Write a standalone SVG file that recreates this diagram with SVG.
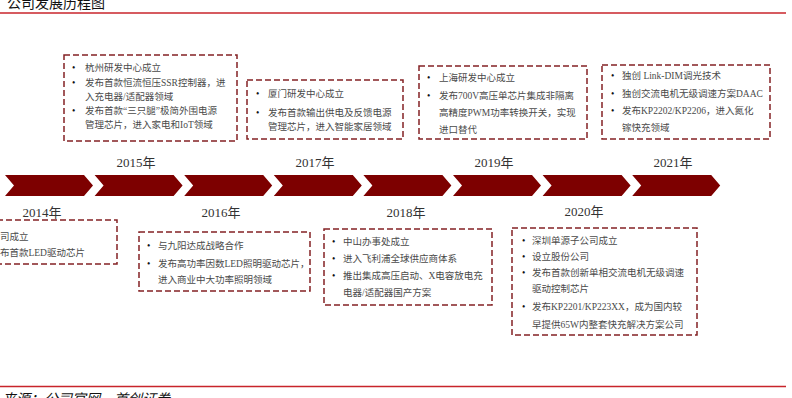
<svg xmlns="http://www.w3.org/2000/svg" width="792" height="398" viewBox="0 0 792 398">
<style>
.title{font-family:"Noto Sans CJK SC","Noto Sans",sans-serif;font-size:14px;fill:#111}
.src{font-family:"Noto Sans CJK SC",sans-serif;font-size:14px;fill:#111;font-style:italic}
.yr{font-family:"Liberation Serif","Noto Sans CJK SC",serif;font-size:13px;fill:#333;text-anchor:middle}
.t{font-family:"Liberation Serif","Noto Sans CJK SC",serif;font-size:9.5px;fill:#4a4a4a}
.b{font-family:"Liberation Serif",serif;font-size:9.5px;fill:#111}
.box{fill:none;stroke:#842224;stroke-width:1.5;stroke-dasharray:6 3}
.chev{fill:#7d0000}
.rule{stroke:#c8242b;stroke-width:1.6}
</style>
<rect width="792" height="398" fill="#fff"/>
<text class="title" x="7" y="8">公司发展历程图</text>
<line class="rule" x1="0" y1="13" x2="786" y2="13"/>
<line class="rule" x1="0" y1="386.5" x2="786" y2="386.5"/>
<text class="src" x="2" y="404">来源：公司官网，首创证券</text>

<g id="timeline">
<path class="chev" d="M5,175 H84 L93,185.5 L84,196 H5 L14,185.5 Z"/>
<path class="chev" d="M94.6,175 H173.6 L182.6,185.5 L173.6,196 H94.6 L103.6,185.5 Z"/>
<path class="chev" d="M184.2,175 H263.2 L272.2,185.5 L263.2,196 H184.2 L193.2,185.5 Z"/>
<path class="chev" d="M273.8,175 H352.8 L361.8,185.5 L352.8,196 H273.8 L282.8,185.5 Z"/>
<path class="chev" d="M363.4,175 H442.4 L451.4,185.5 L442.4,196 H363.4 L372.4,185.5 Z"/>
<path class="chev" d="M453,175 H532 L541,185.5 L532,196 H453 L462,185.5 Z"/>
<path class="chev" d="M542.6,175 H621.6 L630.6,185.5 L621.6,196 H542.6 L551.6,185.5 Z"/>
<path class="chev" d="M632.2,175 H711.2 L720.2,185.5 L711.2,196 H632.2 L641.2,185.5 Z"/>
</g>

<g id="y2014">
<text class="yr" x="42" y="217">2014年</text>
<rect class="box" x="-30" y="220" width="147" height="44"/>
<text class="b" x="-21" y="239.5">•</text><text class="t" x="-9.5" y="239.5">公司成立</text>
<text class="b" x="-21" y="255.5">•</text><text class="t" x="-9.5" y="255.5">发布首款LED驱动芯片</text>
</g>

<g id="y2015">
<text class="yr" x="136" y="167">2015年</text>
<rect class="box" x="64" y="55" width="173" height="86"/>
<text class="b" x="72" y="70.5">•</text><text class="t" x="85" y="70.5">杭州研发中心成立</text>
<text class="b" x="72" y="85.5">•</text><text class="t" x="85" y="85.5">发布首款恒流恒压SSR控制器，进</text>
<text class="t" x="85" y="99.5">入充电器/适配器领域</text>
<text class="b" x="72" y="113.5">•</text><text class="t" x="85" y="113.5">发布首款“三只腿”极简外围电源</text>
<text class="t" x="85" y="127.5">管理芯片，进入家电和IoT领域</text>
</g>

<g id="y2016">
<text class="yr" x="221" y="217">2016年</text>
<rect class="box" x="139" y="232" width="171" height="59"/>
<text class="b" x="147" y="248.5">•</text><text class="t" x="158" y="248.5">与九阳达成战略合作</text>
<text class="b" x="147" y="266.5">•</text><text class="t" x="158" y="266.5">发布高功率因数LED照明驱动芯片，</text>
<text class="t" x="158" y="282.5">进入商业中大功率照明领域</text>
</g>

<g id="y2017">
<text class="yr" x="315" y="167">2017年</text>
<rect class="box" x="247" y="80" width="156" height="59"/>
<text class="b" x="256" y="96.5">•</text><text class="t" x="268" y="96.5">厦门研发中心成立</text>
<text class="b" x="256" y="116">•</text><text class="t" x="268" y="116">发布首款输出供电及反馈电源</text>
<text class="t" x="268" y="130">管理芯片，进入智能家居领域</text>
</g>

<g id="y2018">
<text class="yr" x="406" y="217">2018年</text>
<rect class="box" x="324" y="229" width="168" height="76"/>
<text class="b" x="332" y="244.5">•</text><text class="t" x="343" y="244.5">中山办事处成立</text>
<text class="b" x="332" y="261.5">•</text><text class="t" x="343" y="261.5">进入飞利浦全球供应商体系</text>
<text class="b" x="332" y="278.5">•</text><text class="t" x="343" y="278.5">推出集成高压启动、X电容放电充</text>
<text class="t" x="343" y="295.5">电器/适配器国产方案</text>
</g>

<g id="y2019">
<text class="yr" x="494" y="167">2019年</text>
<rect class="box" x="419" y="66" width="168" height="73"/>
<text class="b" x="427" y="80.5">•</text><text class="t" x="439" y="80.5">上海研发中心成立</text>
<text class="b" x="427" y="98.5">•</text><text class="t" x="439" y="98.5">发布700V高压单芯片集成非隔离</text>
<text class="t" x="439" y="115.5">高精度PWM功率转换开关，实现</text>
<text class="t" x="439" y="133">进口替代</text>
</g>

<g id="y2020">
<text class="yr" x="584" y="216">2020年</text>
<rect class="box" x="512" y="228" width="185" height="107"/>
<text class="b" x="522" y="243.5">•</text><text class="t" x="532" y="243.5">深圳单源子公司成立</text>
<text class="b" x="522" y="259.5">•</text><text class="t" x="532" y="259.5">设立股份公司</text>
<text class="b" x="522" y="275.5">•</text><text class="t" x="532" y="275.5">发布首款创新单相交流电机无级调速</text>
<text class="t" x="532" y="291.5">驱动控制芯片</text>
<text class="b" x="522" y="309.5">•</text><text class="t" x="532" y="309.5">发布KP2201/KP223XX，成为国内较</text>
<text class="t" x="532" y="327.5">早提供65W内整套快充解决方案公司</text>
</g>

<g id="y2021">
<text class="yr" x="673" y="167">2021年</text>
<rect class="box" x="602" y="65" width="168" height="74"/>
<text class="b" x="611" y="79">•</text><text class="t" x="622" y="79">独创 Link-DIM调光技术</text>
<text class="b" x="611" y="97">•</text><text class="t" x="622" y="97">独创交流电机无级调速方案DAAC</text>
<text class="b" x="611" y="114">•</text><text class="t" x="622" y="114">发布KP2202/KP2206，进入氮化</text>
<text class="t" x="622" y="131">镓快充领域</text>
</g>
</svg>
